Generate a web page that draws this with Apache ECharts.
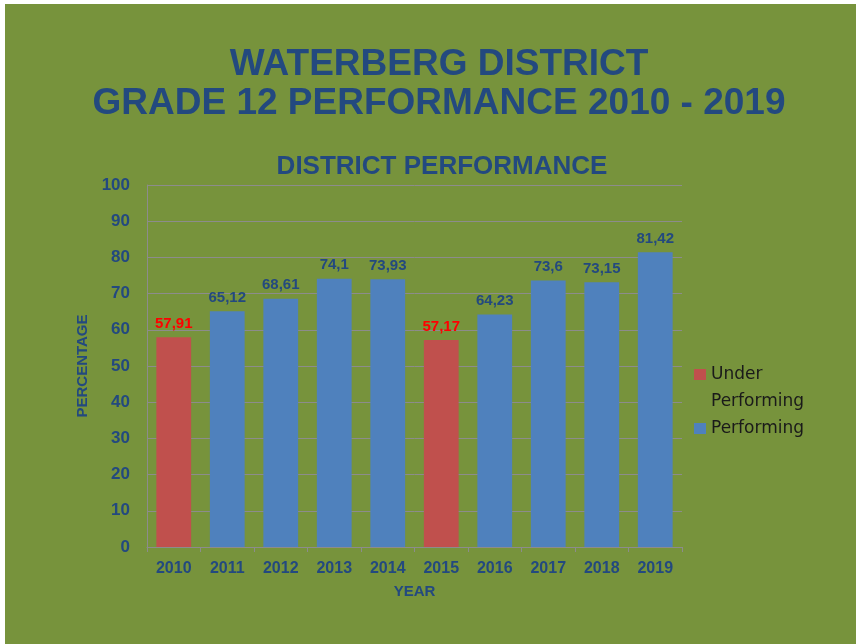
<!DOCTYPE html>
<html>
<head>
<meta charset="utf-8">
<script src="https://cdn.jsdelivr.net/npm/echarts@6/dist/echarts.min.js"></script>
<style>
  html, body { margin: 0; padding: 0; background: #ffffff; }
  #chart { position: absolute; left: 5px; top: 4px; width: 851px; height: 640px; }
</style>
</head>
<body>
<div id="chart"></div>
<script>
// data
const years = ["2010", "2011", "2012", "2013", "2014", "2015", "2016", "2017", "2018", "2019"];
const underPerforming = [57.91, "-", "-", "-", "-", 57.17, "-", "-", "-", "-"];
const performing = ["-", 65.12, 68.61, 74.1, 73.93, "-", 64.23, 73.6, 73.15, 81.42];

const blueText = "#23497f";
const font = "Liberation Sans";

const chart = echarts.init(document.getElementById("chart"));

// labels use a decimal comma like the original
const commaLabel = (p) => String(p.value).replace(".", ",");

// marker sits next to the first line of the two-line legend name
const topSquare = "path://M0,0L12,0L12,11L0,11Z M0,38L0.01,38L0.01,38.01Z";
const legendText = { fontSize: 17, color: "#1a1a1a", lineHeight: 27, fontFamily: "DejaVu Sans" };

chart.setOption({
  backgroundColor: "#77933c",
  textStyle: { fontFamily: font },
  title: [
    {
      text: "WATERBERG DISTRICT\nGRADE 12 PERFORMANCE 2010 - 2019",
      left: 429,
      textAlign: "center",
      top: 36,
      textStyle: { fontSize: 37, fontWeight: "bold", color: blueText, lineHeight: 39, fontFamily: font }
    },
    {
      text: "DISTRICT PERFORMANCE",
      left: 432,
      textAlign: "center",
      top: 145,
      textStyle: { fontSize: 26, fontWeight: "bold", color: blueText, fontFamily: font }
    }
  ],
  legend: [
    {
      orient: "vertical",
      left: 684,
      top: 352,
      itemWidth: 12,
      itemHeight: 38,
      icon: topSquare,
      textStyle: legendText,
      data: ["Under\nPerforming"]
    },
    {
      orient: "vertical",
      left: 684,
      top: 406,
      itemWidth: 12,
      itemHeight: 11,
      icon: "rect",
      textStyle: legendText,
      data: ["Performing"]
    }
  ],
  grid: { left: 142, top: 181, width: 535, height: 362 },
  xAxis: {
    type: "category",
    data: years,
    name: "YEAR",
    nameLocation: "middle",
    nameGap: 37,
    nameTextStyle: { color: blueText, fontWeight: "bold", fontSize: 15 },
    axisLine: { lineStyle: { color: "#8c8c8c" } },
    axisTick: { show: true, length: 5, lineStyle: { color: "#8c8c8c" } },
    axisLabel: { color: blueText, fontWeight: "bold", fontSize: 16, margin: 14 }
  },
  yAxis: {
    type: "value",
    min: 0,
    max: 100,
    interval: 10,
    name: "PERCENTAGE",
    nameLocation: "middle",
    nameGap: 55,
    nameTextStyle: { color: blueText, fontWeight: "bold", fontSize: 15 },
    axisLine: { show: true, lineStyle: { color: "#8c8c8c" } },
    splitLine: { lineStyle: { color: "#8c8c8c" } },
    axisLabel: { color: blueText, fontWeight: "bold", fontSize: 17, margin: 17 }
  },
  series: [
    {
      name: "Under\nPerforming",
      type: "bar",
      data: underPerforming,
      barWidth: "65%",
      barGap: "-100%",
      itemStyle: { color: "#c0504d" },
      label: { show: true, position: "top", distance: 6, formatter: commaLabel, color: "#ff0000", fontWeight: "bold", fontSize: 15 }
    },
    {
      name: "Performing",
      type: "bar",
      data: performing,
      barWidth: "65%",
      itemStyle: { color: "#4f81bd" },
      label: { show: true, position: "top", distance: 6, formatter: commaLabel, color: blueText, fontWeight: "bold", fontSize: 15 }
    }
  ]
});
</script>
</body>
</html>
